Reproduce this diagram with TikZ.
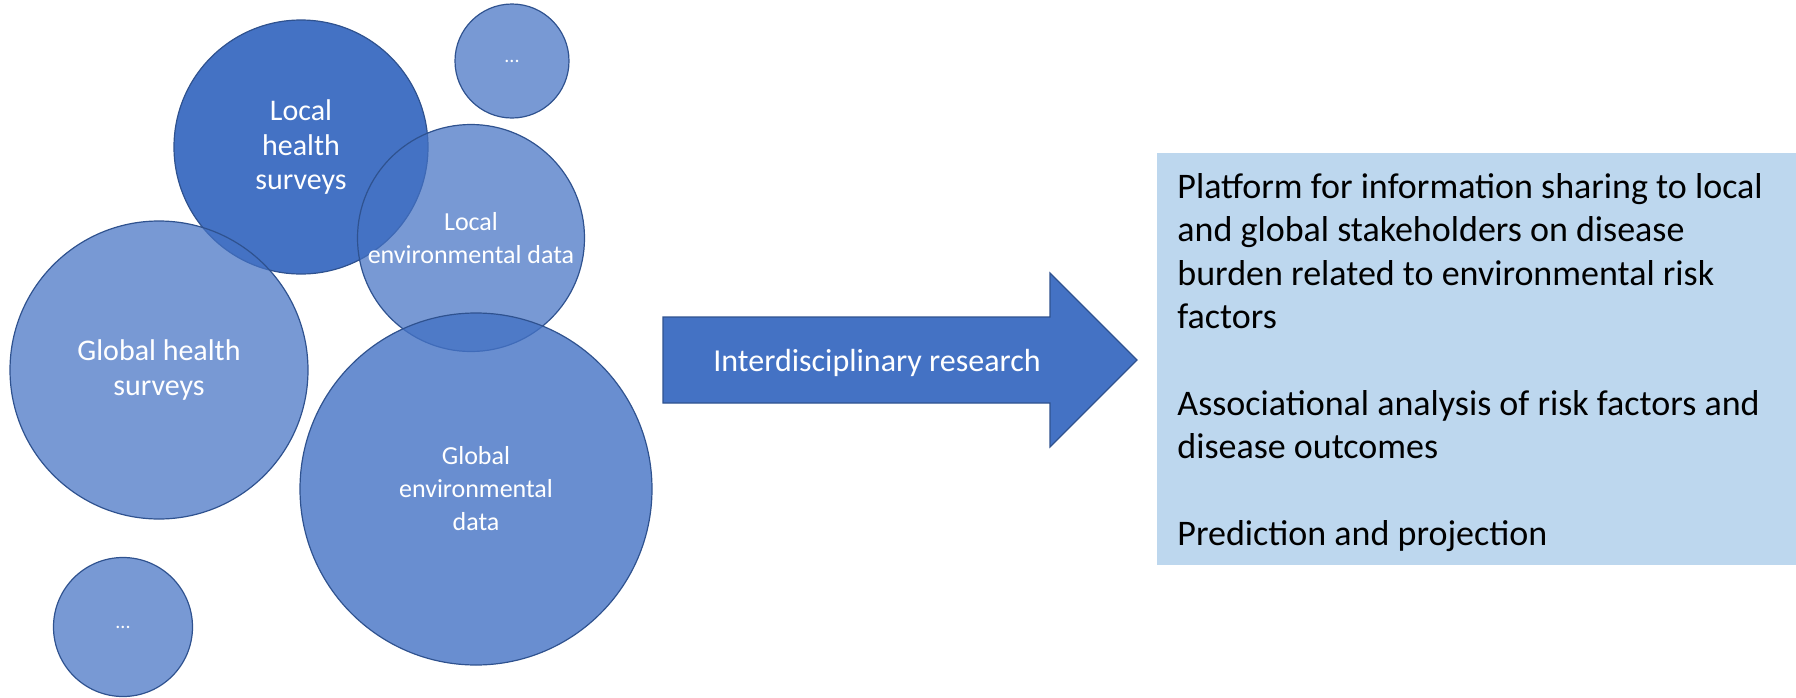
\documentclass[tikz,border=0pt]{standalone}
\usepackage{fontspec}
\setmainfont{Carlito}
\usepackage{tikz}
\usetikzlibrary{positioning,calc}
\definecolor{envblue}{HTML}{4472C4}
\definecolor{envrule}{HTML}{2F528F}
\definecolor{envpale}{HTML}{BDD7EE}

\begin{document}
\begin{tikzpicture}[
  x=0.5pt, y=-0.5pt,
  blob/.style={circle, draw=envrule, line width=0.6pt, fill=envblue, fill opacity=0.72, text opacity=1, text=white, inner sep=0pt, align=center},
  bigtxt/.style={font=\fontsize{15}{17.25}\selectfont},
  smalltxt/.style={font=\fontsize{13}{16.5}\selectfont},
  dotstxt/.style={font=\fontsize{10}{12}\selectfont},
  blockarrow/.style={draw=envrule, line width=0.6pt, fill=envblue, line join=miter},
  outbox/.style={fill=envpale, inner sep=0pt, minimum width=319.5pt, minimum height=206.25pt, anchor=north west},
]
  \useasboundingbox (0,0) rectangle (1796,697);
  \node[blob, bigtxt, fill opacity=1, minimum size=127pt] (lochealth) at (301,147) {Local\\health\\surveys};
  \node[blob, bigtxt, minimum size=149pt] (glohealth) at (159,370) {Global health\\surveys};
  \node[blob, smalltxt, minimum size=113.5pt] (locenv) at (471,238) {Local\\environmental data};
  \node[blob, smalltxt, fill opacity=0.8, minimum size=176pt] (gloenv) at (476,489) {Global\\environmental\\data};
  \node[blob, dotstxt, minimum size=57pt] (moretop) at (512,61) {...};
  \node[blob, dotstxt, minimum size=69.5pt] (morebot) at (123,627) {...};

  \draw[blockarrow] (663,317) -- (1050,317) -- (1050,273) -- (1137,360) -- (1050,447) -- (1050,403) -- (663,403) -- cycle;
  \node[text=white, font=\fontsize{16}{19}\selectfont] (research) at (877,363) {Interdisciplinary research};

  \node[outbox] (platbox) at (1157,152.5) {};
  \node[anchor=north west, align=left, inner sep=0pt, font=\fontsize{18}{21.67}\selectfont] (plattext) at (1177,173) {Platform for information sharing to local\\
and global stakeholders on disease\\
burden related to environmental risk\\
factors\\[21.67pt]
Associational analysis of risk factors and\\
disease outcomes\\[21.67pt]
Prediction and projection};
\end{tikzpicture}
\end{document}
